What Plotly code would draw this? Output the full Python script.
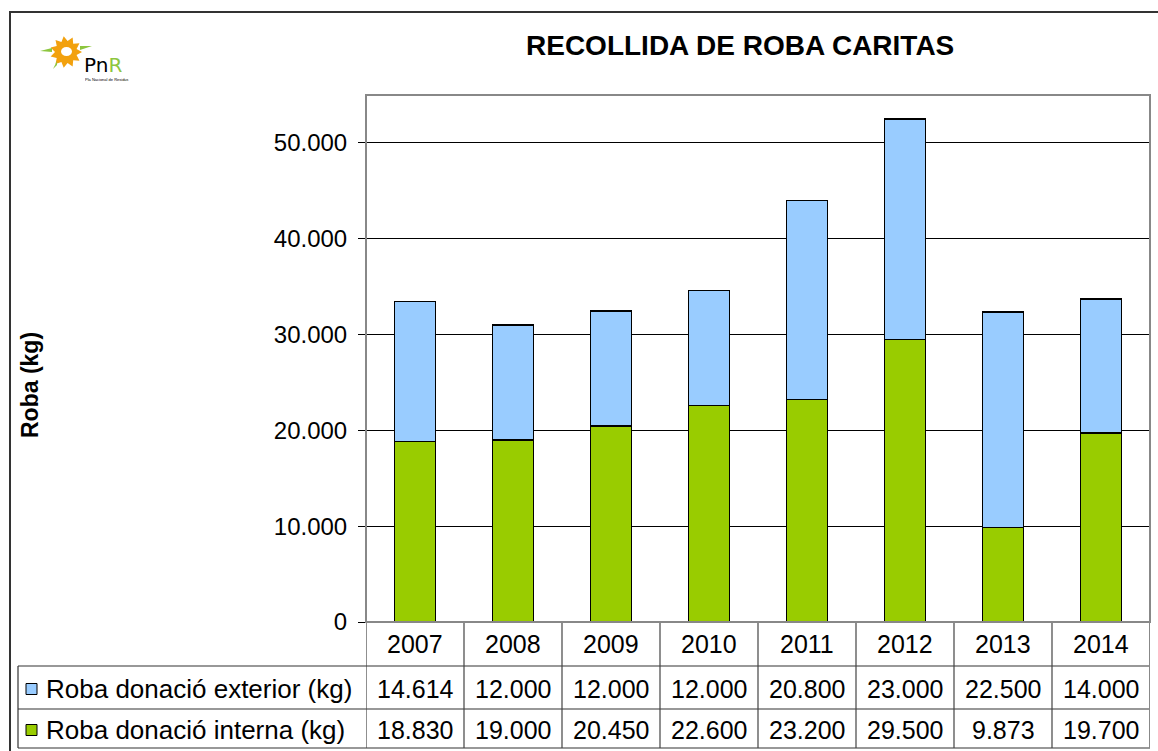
import math
import plotly.graph_objects as go

# dades
anys = ["2007", "2008", "2009", "2010", "2011", "2012", "2013", "2014"]
roba_exterior = [14614, 12000, 12000, 12000, 20800, 23000, 22500, 14000]
roba_interna = [18830, 19000, 20450, 22600, 23200, 29500, 9873, 19700]
nom_exterior = "Roba donació exterior (kg)"
nom_interna = "Roba donació interna (kg)"
y_ticks = [0, 10000, 20000, 30000, 40000, 50000]

COLOR_EXT = "#99CCFF"
COLOR_INT = "#99CC00"
FONT = "Liberation Sans, Arial, sans-serif"

W, H = 1158, 751
L, R, T, B = 366, 1150, 95, 622   # area del grafic en pixels


def px(x):
    return (x - L) / (R - L)


def py(y):
    return (B - y) / (B - T)


def fmt(v):
    return f"{v:,}".replace(",", ".")


def text(x, y, s, size, xref="paper", xanchor="center", **kw):
    return dict(x=x, y=y, xref=xref, yref="paper", text=s, showarrow=False,
                xanchor=xanchor, yanchor="middle",
                font=dict(size=size, color="black", **kw.pop("font", {})), **kw)


fig = go.Figure()
fig.add_trace(go.Bar(x=list(range(len(anys))), y=roba_interna, name=nom_interna,
                     marker=dict(color=COLOR_INT, line=dict(color="black", width=1.5)),
                     width=0.42))
fig.add_trace(go.Bar(x=list(range(len(anys))), y=roba_exterior, name=nom_exterior,
                     marker=dict(color=COLOR_EXT, line=dict(color="black", width=1.5)),
                     width=0.42))

shapes = []
annotations = []

# marc exterior
shapes.append(dict(type="rect", xref="paper", yref="paper",
                   x0=px(10), x1=px(1170), y0=py(760), y1=py(12),
                   line=dict(color="#333333", width=2), layer="below"))

# taula de dades
row_lines = [666, 709, 748]
for yy in row_lines:
    shapes.append(dict(type="line", xref="paper", yref="paper",
                       x0=px(18), x1=px(R), y0=py(yy), y1=py(yy),
                       line=dict(color="#333333", width=1.2)))
shapes.append(dict(type="line", xref="paper", yref="paper",
                   x0=px(18), x1=px(18), y0=py(666), y1=py(748),
                   line=dict(color="#333333", width=1.2)))
for i in range(len(anys) + 1):
    shapes.append(dict(type="line", xref="x", yref="paper",
                       x0=i - 0.5, x1=i - 0.5, y0=py(B), y1=py(748),
                       line=dict(color="#444444" if i < len(anys) else "#888888",
                                 width=1.2 if i < len(anys) else 2)))

for i, a in enumerate(anys):
    annotations.append(text(i, py(644), a, 25, xref="x"))
    annotations.append(text(i, py(689), fmt(roba_exterior[i]), 25, xref="x"))
    annotations.append(text(i, py(730), fmt(roba_interna[i]), 25, xref="x"))

for nom, color, yc in [(nom_exterior, COLOR_EXT, 689), (nom_interna, COLOR_INT, 730)]:
    shapes.append(dict(type="rect", xref="paper", yref="paper",
                       x0=px(26), x1=px(37), y0=py(yc + 5.5), y1=py(yc - 5.5),
                       fillcolor=color, line=dict(color="black", width=1)))
    annotations.append(text(px(44), py(yc), nom, 26, xanchor="left"))

# vores del grafic
shapes.append(dict(type="rect", xref="paper", yref="paper", x0=0, x1=1, y0=0, y1=1,
                   line=dict(color="#888888", width=2)))

# logo PnR (aproximat)
cx, cy, r0 = 66, 52, 11
pts = []
for k in range(22):
    ang = math.pi * k / 11
    rr = r0 + 5 if k % 2 == 0 else r0
    pts.append((cx + rr * math.cos(ang), cy + rr * math.sin(ang)))
path = "M " + " L ".join(f"{px(x):.5f},{py(y):.5f}" for x, y in pts) + " Z"
shapes.append(dict(type="path", xref="paper", yref="paper", path=path,
                   fillcolor="#F2A10E", line=dict(width=0)))
shapes.append(dict(type="circle", xref="paper", yref="paper",
                   x0=px(cx - 5), x1=px(cx + 6), y0=py(cy + 4), y1=py(cy - 5),
                   fillcolor="white", line=dict(width=0)))
for lx, ly, dx, dy in [(52, 50, -12, 1), (80, 48, 12, -2), (57, 63, -4, 6)]:
    leaf = (f"M {px(lx):.5f},{py(ly - 2):.5f} L {px(lx + dx):.5f},{py(ly + dy):.5f} "
            f"L {px(lx):.5f},{py(ly + 2):.5f} Z")
    shapes.append(dict(type="path", xref="paper", yref="paper", path=leaf,
                       fillcolor="#8DC63F", line=dict(width=0)))
annotations.append(text(px(82), py(65), "Pn<span style='color:#8DC63F'>R</span>", 20,
                        xanchor="left", height=18, font=dict(family="DejaVu Sans")))
annotations.append(text(px(83), py(80), "Pla Nacional de Residus", 4,
                        xanchor="left", height=5))

# titols
annotations.append(text(px(740), py(46), "<b>RECOLLIDA DE ROBA CARITAS</b>", 28))
annotations.append(text(px(30), py(385), "<b>Roba (kg)</b>", 23, textangle=-90))

fig.update_layout(
    width=W, height=H,
    margin=dict(l=L, r=W - R, t=T, b=H - B),
    barmode="stack",
    showlegend=False,
    paper_bgcolor="white",
    plot_bgcolor="white",
    separators=",.",
    font=dict(family=FONT, color="black"),
    shapes=shapes,
    annotations=annotations,
)
fig.update_xaxes(range=[-0.5, len(anys) - 0.5], showticklabels=False, showgrid=False,
                 zeroline=False, showline=False, ticks="")
fig.update_yaxes(range=[0, 55000], tickvals=y_ticks, tickformat=",d",
                 showgrid=True, gridcolor="black", gridwidth=1, zeroline=False,
                 showline=False, ticks="outside", ticklen=7, tickcolor="black",
                 tickfont=dict(size=24), ticklabelstandoff=6)

fig.write_html("out.html", config={"displayModeBar": False},
               post_script="document.body.style.margin='0';")
